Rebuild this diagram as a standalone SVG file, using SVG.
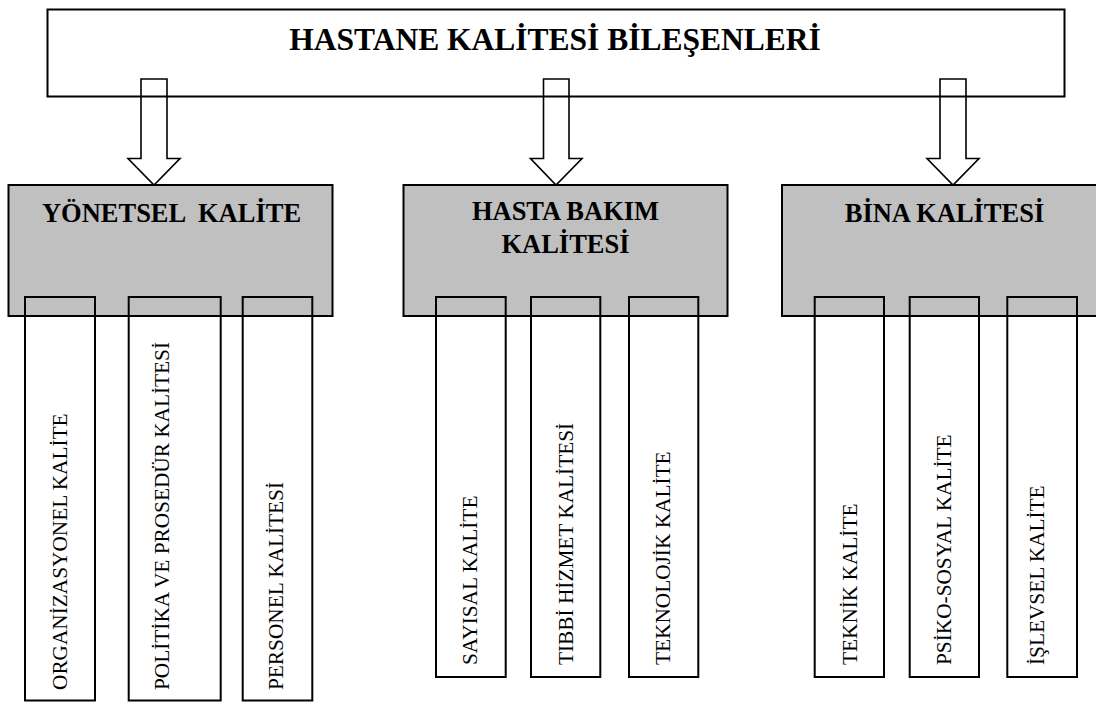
<svg xmlns="http://www.w3.org/2000/svg" width="1096" height="702" viewBox="0 0 1096 702">
  <style>
    .frame { fill: none; stroke: #000; stroke-width: 2; }
    .cat { fill: #c0c0c0; stroke: #000; stroke-width: 2; }
    .col { fill: none; stroke: #000; stroke-width: 2; }
    .arrow { fill: none; stroke: #000; stroke-width: 1.6; stroke-linejoin: miter; }
    .title { font-family: "Liberation Serif", "Times New Roman", serif; font-weight: bold; font-size: 31.5px; text-anchor: middle; fill: #000; }
    .head { font-family: "Liberation Serif", "Times New Roman", serif; font-weight: bold; font-size: 26.5px; text-anchor: middle; fill: #000; white-space: pre; }
    .item { font-family: "Liberation Serif", "Times New Roman", serif; font-size: 21.3px; text-anchor: start; fill: #000; }
  </style>
  <rect width="1096" height="702" fill="#fff"/>

  <!-- root box -->
  <g id="root">
    <rect class="frame" x="47.5" y="9.5" width="1017" height="87"/>
    <text class="title" x="555" y="50">HASTANE KALİTESİ BİLEŞENLERİ</text>
  </g>

  <!-- block arrows from the root to each category -->
  <g id="connectors">
    <polygon class="arrow" points="141,79 167,79 167,158.5 180,158.5 154,185 128,158.5 141,158.5"/>
    <polygon class="arrow" points="543.5,79 569,79 569,158.5 582,158.5 556,185 530.5,158.5 543.5,158.5"/>
    <polygon class="arrow" points="940,79 966,79 966,158.5 979,158.5 953,185 927,158.5 940,158.5"/>
  </g>

  <!-- management quality -->
  <g id="yonetsel">
    <rect class="cat" x="8.5" y="185" width="324" height="131"/>
    <text class="head" x="171.5" y="221.7" xml:space="preserve">YÖNETSEL  KALİTE</text>
    <rect class="col" x="25" y="297" width="70" height="403.5"/>
    <rect class="col" x="128.7" y="297" width="92" height="403.5"/>
    <rect class="col" x="242.7" y="297" width="69.6" height="403.5"/>
    <text class="item" transform="translate(66.5,690) rotate(-90)">ORGANİZASYONEL KALİTE</text>
    <text class="item" transform="translate(169,690) rotate(-90)">POLİTİKA VE PROSEDÜR KALİTESİ</text>
    <text class="item" transform="translate(283,690) rotate(-90)">PERSONEL KALİTESİ</text>
  </g>

  <!-- patient care quality -->
  <g id="hasta-bakim">
    <rect class="cat" x="403.5" y="185" width="324" height="131"/>
    <text class="head" x="565.5" y="220">HASTA BAKIM</text>
    <text class="head" x="565.5" y="252.7">KALİTESİ</text>
    <rect class="col" x="436" y="297" width="69.7" height="380"/>
    <rect class="col" x="531" y="297" width="69.3" height="380"/>
    <rect class="col" x="629" y="297" width="69.3" height="380"/>
    <text class="item" transform="translate(476.5,665) rotate(-90)">SAYISAL KALİTE</text>
    <text class="item" transform="translate(572.5,665) rotate(-90)">TIBBİ HİZMET KALİTESİ</text>
    <text class="item" transform="translate(669.5,665) rotate(-90)">TEKNOLOJİK KALİTE</text>
  </g>

  <!-- building quality -->
  <g id="bina">
    <rect class="cat" x="782" y="185" width="324" height="131"/>
    <text class="head" x="944.5" y="221.7">BİNA KALİTESİ</text>
    <rect class="col" x="814.7" y="297" width="69.3" height="380"/>
    <rect class="col" x="909.7" y="297" width="69.3" height="380"/>
    <rect class="col" x="1007.3" y="297" width="69.7" height="380"/>
    <text class="item" transform="translate(856.5,665) rotate(-90)">TEKNİK KALİTE</text>
    <text class="item" transform="translate(950.5,665) rotate(-90)">PSİKO-SOSYAL KALİTE</text>
    <text class="item" transform="translate(1044,665) rotate(-90)">İŞLEVSEL KALİTE</text>
  </g>
</svg>
